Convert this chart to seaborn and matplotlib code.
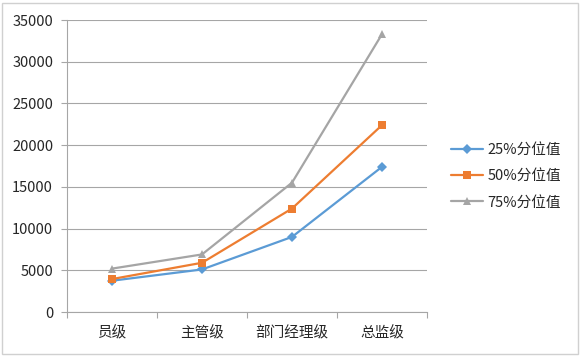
import matplotlib
matplotlib.use('Agg')
import matplotlib.ticker as ticker
import pandas as pd
import seaborn as sns
from matplotlib import pyplot as plt
from matplotlib.patches import Rectangle

CATEGORIES = ['员级', '主管级', '部门经理级', '总监级']
SERIES_NAMES = ['25%分位值', '50%分位值', '75%分位值']
P25 = [3750, 5100, 9000, 17400]
P50 = [3950, 5900, 12400, 22400]
P75 = [5200, 6900, 15500, 33300]
Y_TICKS = [0, 5000, 10000, 15000, 20000, 25000, 30000, 35000]

COLORS = ['#5B9BD5', '#ED7D31', '#A5A5A5']
MARKERS = ['D', 's', '^']
MARKER_SIZES = [5, 5.5, 6]


def start():
    df = pd.DataFrame({
        'level': CATEGORIES * 3,
        'pos': list(range(len(CATEGORIES))) * 3,
        'value': P25 + P50 + P75,
        'series': [n for n in SERIES_NAMES for _ in CATEGORIES],
    })

    sns.set_style('white')
    plt.rcParams['font.family'] = ['Noto Sans CJK SC', 'DejaVu Sans']
    plt.rcParams['axes.unicode_minus'] = False

    fig = plt.figure(figsize=(5.81, 3.57), dpi=100)
    ax = fig.add_axes([67 / 581, 45 / 357, 360 / 581, 292 / 357])

    sns.lineplot(
        data=df, x='pos', y='value', hue='series', style='series',
        palette=dict(zip(SERIES_NAMES, COLORS)),
        markers=dict(zip(SERIES_NAMES, MARKERS)), dashes=False,
        linewidth=1.6, markeredgewidth=0, ax=ax, legend='full'
    )
    # per-series marker size, like the excel defaults
    for line, ms in zip(ax.lines, MARKER_SIZES):
        line.set_markersize(ms)

    ax.set_xlim(-0.5, len(CATEGORIES) - 0.5)
    ax.set_ylim(0, 35000)
    ax.yaxis.set_major_locator(ticker.FixedLocator(Y_TICKS))
    ax.set_xticks(range(len(CATEGORIES)))
    ax.set_xticklabels(CATEGORIES)
    ax.set_xticks([i - 0.5 for i in range(len(CATEGORIES) + 1)], minor=True)
    ax.set_xlabel(None)
    ax.set_ylabel(None)

    # excel-like grid and axes
    ax.grid(True, axis='y', color='#A6A6A6', linewidth=0.8)
    ax.set_axisbelow(True)
    for side in ['top', 'right']:
        ax.spines[side].set_visible(False)
    for side in ['left', 'bottom']:
        ax.spines[side].set_color('#A6A6A6')
        ax.spines[side].set_linewidth(0.8)

    ax.tick_params(axis='y', length=4, width=0.8, color='#A6A6A6', pad=6, labelsize=10.5, left=True)
    ax.tick_params(axis='x', which='major', length=0, pad=10, labelsize=10.5)
    ax.tick_params(axis='x', which='minor', length=4, width=0.8, color='#A6A6A6', bottom=True)
    for lbl in ax.get_xticklabels() + ax.get_yticklabels():
        lbl.set_color('#262626')

    handles, labels = ax.get_legend_handles_labels()
    for h, ms in zip(handles, MARKER_SIZES):
        h.set_markersize(ms)
    ax.legend(
        handles, labels, loc='center left', bbox_to_anchor=(451 / 581, 181 / 357),
        bbox_transform=fig.transFigure, frameon=False, fontsize=10.5,
        handlelength=2.2, handletextpad=0.3, labelspacing=0.85,
        borderpad=0, borderaxespad=0, labelcolor='#262626'
    )

    fig.patches.append(Rectangle((2 / 581, 3 / 357), 576 / 581, 351 / 357,
                                 transform=fig.transFigure, fill=False,
                                 edgecolor='#D0D0D0', linewidth=1))

    plt.savefig('out.png', dpi=100)


start()
